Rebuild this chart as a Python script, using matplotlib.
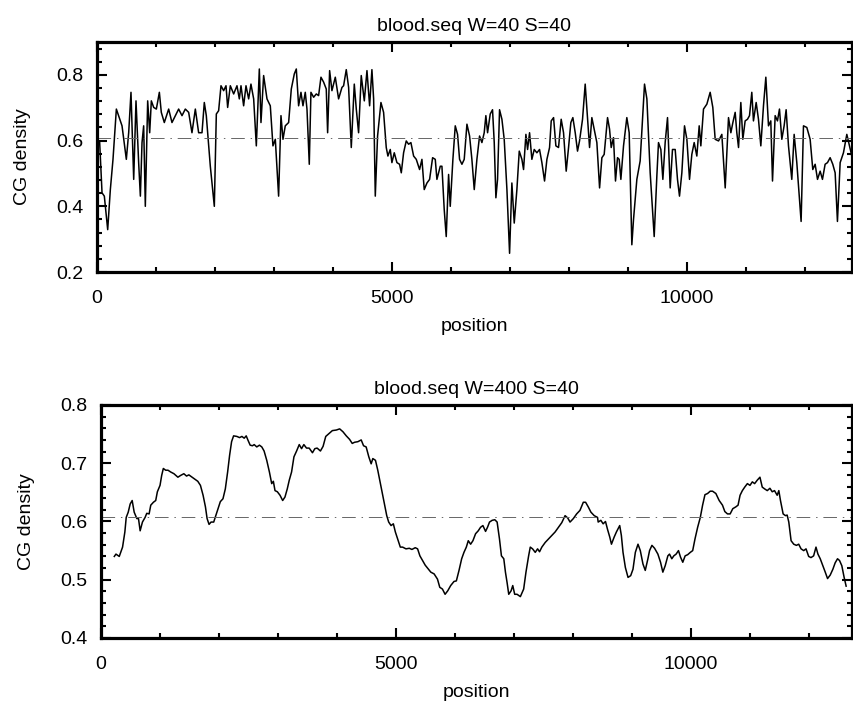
import matplotlib.pyplot as plt
from matplotlib.ticker import MultipleLocator

# CG density, window 40 step 40
top_pos = [45, 85, 124, 181, 226, 271, 328, 424, 497, 537, 576, 622, 661, 706, 735, 763, 791, 819,
           859, 893, 921, 961, 1006, 1057, 1090, 1141, 1215, 1271, 1328, 1384, 1441, 1497, 1554,
           1610, 1667, 1723, 1780, 1819, 1853, 1921, 1989, 2023, 2062, 2102, 2147, 2187, 2215,
           2260, 2317, 2373, 2413, 2441, 2486, 2526, 2571, 2610, 2656, 2701, 2752, 2780, 2825,
           2882, 2938, 2983, 3023, 3079, 3119, 3153, 3192, 3249, 3294, 3345, 3379, 3418, 3458,
           3492, 3531, 3560, 3599, 3627, 3673, 3718, 3757, 3797, 3842, 3887, 3910, 3944, 3983,
           4040, 4096, 4153, 4181, 4226, 4266, 4311, 4362, 4396, 4435, 4480, 4532, 4577, 4622,
           4661, 4690, 4718, 4757, 4814, 4859, 4904, 4932, 4972, 5000, 5040, 5085, 5130, 5159,
           5198, 5243, 5283, 5322, 5368, 5413, 5469, 5509, 5548, 5594, 5639, 5690, 5735, 5763,
           5820, 5848, 5887, 5921, 5961, 5989, 6034, 6074, 6113, 6147, 6187, 6226, 6272, 6317,
           6356, 6396, 6441, 6486, 6526, 6565, 6593, 6622, 6667, 6706, 6735, 6763, 6791, 6825,
           6865, 6904, 6950, 6995, 7034, 7074, 7119, 7159, 7204, 7232, 7272, 7300, 7334, 7373,
           7413, 7458, 7503, 7543, 7588, 7628, 7673, 7701, 7741, 7780, 7825, 7870, 7910, 7955,
           7995, 8034, 8068, 8108, 8147, 8181, 8232, 8277, 8317, 8351, 8390, 8430, 8475, 8521,
           8560, 8599, 8656, 8690, 8718, 8757, 8791, 8825, 8853, 8882, 8927, 8983, 9023, 9068,
           9096, 9153, 9209, 9249, 9283, 9323, 9379, 9447, 9492, 9520, 9560, 9594, 9633, 9673,
           9718, 9757, 9803, 9842, 9876, 9916, 9961, 10001, 10046, 10085, 10125, 10170, 10210,
           10238, 10283, 10340, 10396, 10441, 10481, 10538, 10594, 10651, 10707, 10747, 10781,
           10820, 10848, 10877, 10916, 10950, 10989, 11029, 11063, 11102, 11130, 11176, 11215,
           11255, 11300, 11340, 11385, 11424, 11453, 11498, 11537, 11571, 11611, 11650, 11684,
           11724, 11780, 11820, 11865, 11938, 11978, 12035, 12091, 12136, 12176, 12216, 12261,
           12300, 12345, 12385, 12430, 12475, 12515, 12554, 12600, 12656, 12713, 12758, 12798,
           12830]
top_val = [0.594, 0.441, 0.431, 0.329, 0.451, 0.543, 0.696, 0.645, 0.543, 0.624, 0.747, 0.482,
           0.721, 0.533, 0.431, 0.594, 0.645, 0.400, 0.721, 0.624, 0.721, 0.701, 0.696, 0.747,
           0.686, 0.655, 0.696, 0.655, 0.676, 0.696, 0.676, 0.696, 0.686, 0.624, 0.696, 0.624,
           0.624, 0.716, 0.676, 0.522, 0.400, 0.681, 0.691, 0.767, 0.752, 0.767, 0.701, 0.767,
           0.742, 0.767, 0.727, 0.767, 0.706, 0.767, 0.727, 0.772, 0.727, 0.584, 0.818, 0.655,
           0.798, 0.727, 0.706, 0.584, 0.604, 0.431, 0.676, 0.604, 0.645, 0.655, 0.757, 0.803,
           0.818, 0.706, 0.747, 0.706, 0.747, 0.696, 0.528, 0.747, 0.732, 0.742, 0.737, 0.793,
           0.778, 0.757, 0.624, 0.813, 0.752, 0.793, 0.727, 0.762, 0.767, 0.816, 0.762, 0.579,
           0.772, 0.696, 0.624, 0.798, 0.721, 0.813, 0.706, 0.816, 0.727, 0.431, 0.614, 0.716,
           0.686, 0.579, 0.553, 0.573, 0.533, 0.563, 0.533, 0.528, 0.502, 0.563, 0.599, 0.589,
           0.594, 0.553, 0.543, 0.512, 0.543, 0.451, 0.471, 0.482, 0.548, 0.543, 0.482, 0.522,
           0.522, 0.390, 0.308, 0.497, 0.400, 0.543, 0.645, 0.619, 0.543, 0.528, 0.543, 0.650,
           0.614, 0.543, 0.451, 0.543, 0.614, 0.594, 0.624, 0.676, 0.624, 0.681, 0.694, 0.594,
           0.426, 0.482, 0.694, 0.665, 0.604, 0.451, 0.257, 0.471, 0.349, 0.451, 0.568, 0.543,
           0.512, 0.619, 0.573, 0.624, 0.543, 0.573, 0.563, 0.573, 0.533, 0.477, 0.543, 0.579,
           0.660, 0.670, 0.584, 0.579, 0.665, 0.624, 0.507, 0.579, 0.655, 0.670, 0.624, 0.568,
           0.599, 0.665, 0.772, 0.665, 0.579, 0.670, 0.635, 0.594, 0.456, 0.548, 0.558, 0.670,
           0.635, 0.579, 0.609, 0.477, 0.548, 0.543, 0.482, 0.584, 0.670, 0.624, 0.283, 0.359,
           0.482, 0.538, 0.665, 0.772, 0.727, 0.502, 0.308, 0.492, 0.594, 0.573, 0.482, 0.594,
           0.670, 0.456, 0.573, 0.573, 0.482, 0.431, 0.502, 0.645, 0.604, 0.482, 0.558, 0.594,
           0.553, 0.645, 0.584, 0.696, 0.711, 0.747, 0.701, 0.604, 0.599, 0.619, 0.456, 0.670,
           0.624, 0.655, 0.686, 0.624, 0.579, 0.716, 0.604, 0.660, 0.665, 0.676, 0.747, 0.660,
           0.716, 0.665, 0.584, 0.706, 0.793, 0.645, 0.660, 0.477, 0.676, 0.660, 0.696, 0.604,
           0.645, 0.694, 0.584, 0.482, 0.619, 0.533, 0.354, 0.645, 0.640, 0.604, 0.512, 0.528,
           0.482, 0.507, 0.482, 0.528, 0.533, 0.548, 0.528, 0.502, 0.354, 0.533, 0.563, 0.619,
           0.584, 0.553, 0.350]

# CG density, window 400 step 40
bot_pos = [225, 253, 309, 365, 404, 427, 461, 494, 528, 562, 607, 635, 663, 702, 747, 775, 815,
           843, 888, 927, 955, 1000, 1028, 1056, 1096, 1135, 1180, 1236, 1303, 1348, 1404, 1449,
           1489, 1545, 1601, 1640, 1685, 1730, 1770, 1798, 1831, 1865, 1910, 1955, 1994, 2022,
           2067, 2107, 2146, 2180, 2213, 2247, 2303, 2348, 2388, 2427, 2461, 2489, 2528, 2567,
           2596, 2640, 2685, 2725, 2764, 2809, 2854, 2893, 2921, 2949, 2989, 3034, 3079, 3118,
           3157, 3191, 3230, 3270, 3315, 3360, 3399, 3438, 3483, 3528, 3584, 3624, 3663, 3719,
           3764, 3809, 3865, 3921, 3989, 4045, 4101, 4157, 4213, 4258, 4298, 4354, 4410, 4450,
           4494, 4539, 4579, 4607, 4652, 4691, 4730, 4775, 4809, 4843, 4876, 4916, 4955, 4989,
           5028, 5073, 5112, 5169, 5225, 5270, 5326, 5366, 5405, 5450, 5495, 5534, 5590, 5646,
           5703, 5742, 5787, 5832, 5877, 5927, 5983, 6023, 6068, 6113, 6152, 6192, 6225, 6265,
           6304, 6349, 6394, 6433, 6473, 6518, 6551, 6585, 6630, 6675, 6714, 6754, 6787, 6827,
           6855, 6883, 6911, 6951, 6979, 7012, 7052, 7108, 7164, 7203, 7248, 7276, 7315, 7360,
           7400, 7433, 7472, 7529, 7585, 7641, 7697, 7754, 7810, 7866, 7911, 7950, 8006, 8062,
           8118, 8175, 8214, 8259, 8304, 8360, 8416, 8427, 8472, 8511, 8551, 8584, 8624, 8652,
           8697, 8736, 8792, 8820, 8848, 8888, 8933, 8978, 9017, 9057, 9102, 9141, 9186, 9225,
           9270, 9298, 9338, 9383, 9439, 9484, 9523, 9563, 9608, 9636, 9675, 9709, 9748, 9788,
           9822, 9861, 9901, 9944, 9989, 10029, 10068, 10113, 10158, 10197, 10237, 10281, 10326,
           10366, 10422, 10478, 10534, 10574, 10619, 10664, 10709, 10759, 10798, 10832, 10871,
           10911, 10956, 11000, 11040, 11079, 11124, 11169, 11208, 11248, 11293, 11338, 11377,
           11416, 11461, 11489, 11517, 11562, 11602, 11630, 11658, 11697, 11742, 11787, 11826,
           11866, 11911, 11950, 11995, 12034, 12079, 12119, 12152, 12191, 12236, 12276, 12315,
           12360, 12405, 12444, 12484, 12518, 12557, 12596, 12630]
bot_val = [0.540, 0.544, 0.540, 0.556, 0.582, 0.607, 0.616, 0.630, 0.636, 0.616, 0.605, 0.605,
           0.584, 0.599, 0.607, 0.614, 0.613, 0.628, 0.633, 0.636, 0.651, 0.662, 0.679, 0.691,
           0.688, 0.688, 0.685, 0.682, 0.676, 0.679, 0.682, 0.678, 0.680, 0.676, 0.672, 0.669,
           0.662, 0.645, 0.625, 0.605, 0.595, 0.599, 0.599, 0.613, 0.625, 0.634, 0.639, 0.656,
           0.685, 0.714, 0.737, 0.747, 0.746, 0.744, 0.746, 0.743, 0.747, 0.740, 0.731, 0.730,
           0.732, 0.728, 0.731, 0.728, 0.721, 0.705, 0.685, 0.665, 0.669, 0.653, 0.651, 0.645,
           0.636, 0.642, 0.656, 0.671, 0.685, 0.711, 0.721, 0.732, 0.725, 0.732, 0.726, 0.726,
           0.718, 0.725, 0.726, 0.721, 0.729, 0.746, 0.751, 0.756, 0.757, 0.759, 0.754, 0.747,
           0.741, 0.734, 0.736, 0.737, 0.740, 0.730, 0.728, 0.711, 0.699, 0.708, 0.705, 0.688,
           0.668, 0.645, 0.628, 0.610, 0.599, 0.593, 0.596, 0.582, 0.570, 0.556, 0.556, 0.553,
           0.554, 0.552, 0.555, 0.553, 0.541, 0.533, 0.525, 0.520, 0.513, 0.510, 0.501, 0.487,
           0.484, 0.475, 0.481, 0.490, 0.497, 0.498, 0.516, 0.536, 0.547, 0.556, 0.567, 0.561,
           0.567, 0.579, 0.584, 0.590, 0.593, 0.583, 0.590, 0.599, 0.602, 0.603, 0.599, 0.570,
           0.541, 0.536, 0.513, 0.495, 0.475, 0.481, 0.490, 0.475, 0.475, 0.471, 0.484, 0.513,
           0.541, 0.556, 0.553, 0.547, 0.553, 0.548, 0.556, 0.564, 0.570, 0.576, 0.582, 0.590,
           0.598, 0.610, 0.606, 0.599, 0.605, 0.613, 0.619, 0.633, 0.633, 0.625, 0.616, 0.610,
           0.607, 0.599, 0.602, 0.596, 0.600, 0.587, 0.573, 0.561, 0.573, 0.582, 0.593, 0.576,
           0.547, 0.521, 0.504, 0.507, 0.518, 0.547, 0.561, 0.550, 0.527, 0.516, 0.536, 0.550,
           0.559, 0.554, 0.544, 0.530, 0.513, 0.524, 0.541, 0.544, 0.536, 0.541, 0.544, 0.550,
           0.539, 0.530, 0.541, 0.543, 0.547, 0.550, 0.570, 0.590, 0.607, 0.628, 0.646, 0.648,
           0.652, 0.652, 0.648, 0.636, 0.628, 0.617, 0.613, 0.613, 0.622, 0.625, 0.628, 0.645,
           0.653, 0.659, 0.665, 0.662, 0.668, 0.665, 0.671, 0.676, 0.659, 0.656, 0.653, 0.657,
           0.651, 0.653, 0.645, 0.653, 0.636, 0.613, 0.610, 0.611, 0.599, 0.567, 0.561, 0.559,
           0.561, 0.553, 0.550, 0.553, 0.540, 0.538, 0.541, 0.556, 0.544, 0.536, 0.524, 0.513,
           0.502, 0.508, 0.518, 0.529, 0.536, 0.533, 0.524, 0.504, 0.489]

mean_cg = 0.607

plt.rcParams['font.family'] = ['Liberation Sans', 'DejaVu Sans']
plt.rcParams['font.size'] = 14

fig = plt.figure(figsize=(8.54, 7.02), dpi=100)
ax1 = fig.add_axes([0.1136, 0.6125, 0.884, 0.3276])
ax2 = fig.add_axes([0.1183, 0.0912, 0.8794, 0.3319])


def style(ax, title, xmax, ylo, yhi, ymaj, ymin):
    ax.plot([0, xmax], [mean_cg, mean_cg], color='#666666', lw=0.7, ls=(0, (14, 6, 1.5, 6)))
    ax.set_xlim(0, xmax)
    ax.set_ylim(ylo, yhi)
    ax.xaxis.set_major_locator(MultipleLocator(5000))
    ax.xaxis.set_minor_locator(MultipleLocator(1000))
    ax.yaxis.set_major_locator(MultipleLocator(ymaj))
    ax.yaxis.set_minor_locator(MultipleLocator(ymin))
    ax.tick_params(which='both', direction='in', top=True, right=True, width=1.5, labelsize=14)
    ax.tick_params(which='major', length=7)
    ax.tick_params(which='minor', length=3.5)
    ax.tick_params(axis='x', which='major', pad=13)
    ax.tick_params(axis='y', which='major', pad=10)
    for s in ax.spines.values():
        s.set_linewidth(2.3)
    ax.set_title(title, fontsize=14, pad=8)
    ax.set_xlabel('position', fontsize=14, labelpad=8)
    ax.set_ylabel('CG density', fontsize=14, labelpad=18)


ax1.plot(top_pos, top_val, color='black', lw=1.1)
style(ax1, 'blood.seq W=40 S=40', 12800, 0.2, 0.9, 0.2, 0.04)

ax2.plot(bot_pos, bot_val, color='black', lw=1.1)
style(ax2, 'blood.seq W=400 S=40', 12730, 0.4, 0.8, 0.1, 0.02)
ax2.set_yticks([0.4, 0.5, 0.6, 0.7, 0.8])

fig.savefig('out.png', dpi=100)
